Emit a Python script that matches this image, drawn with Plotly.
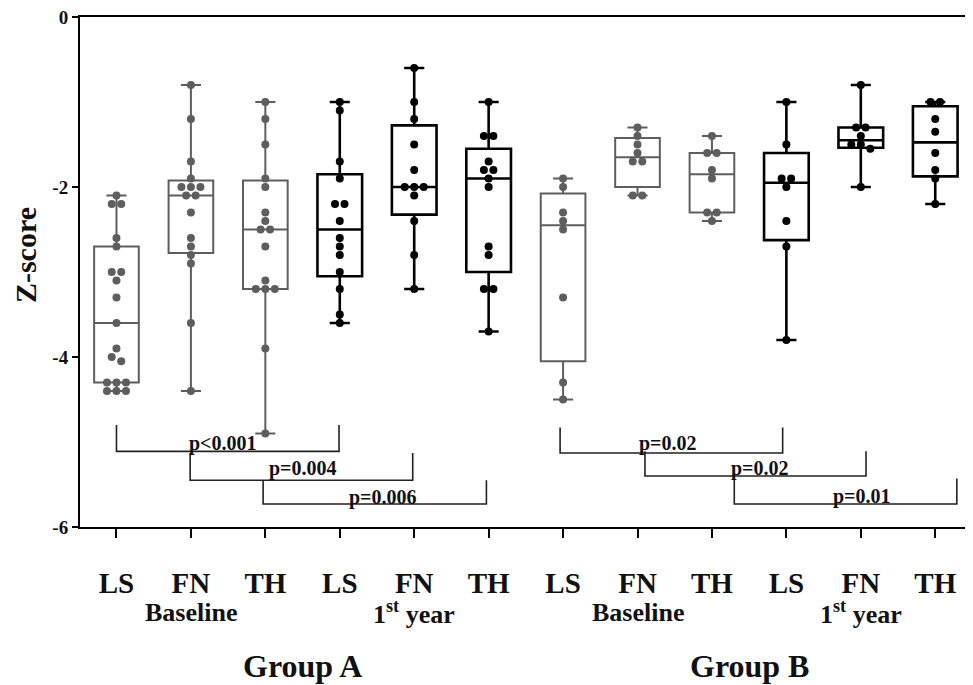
import numpy as np
import plotly.graph_objects as go

# ---------------- data ----------------
tick_labels = ["LS", "FN", "TH", "LS", "FN", "TH", "LS", "FN", "TH", "LS", "FN", "TH"]
period_labels = ["Baseline", "1<sup>st</sup> year", "Baseline", "1<sup>st</sup> year"]
period_centers = [1, 4, 7, 10]
group_labels = ["Group A", "Group B"]
group_centers = [2.5, 8.5]

ls_a_base = [-2.1, -2.2, -2.2, -2.6, -2.7, -3.0, -3.0, -3.1, -3.3, -3.6, -3.9, -4.0, -4.05,
             -4.3, -4.3, -4.3, -4.4, -4.4, -4.4]
fn_a_base = [-0.8, -1.2, -1.7, -1.9, -2.0, -2.0, -2.0, -2.1, -2.1, -2.3, -2.6, -2.7, -2.8,
             -2.9, -3.6, -4.4]
th_a_base = [-1.0, -1.2, -1.5, -1.9, -2.0, -2.3, -2.4, -2.5, -2.5, -2.7, -3.1, -3.2, -3.2,
             -3.2, -3.9, -4.9]
ls_a_1y = [-1.0, -1.1, -1.7, -1.9, -2.2, -2.2, -2.4, -2.6, -2.7, -2.8, -3.0, -3.2, -3.5, -3.6]
fn_a_1y = [-0.6, -1.0, -1.2, -1.5, -1.8, -2.0, -2.0, -2.0, -2.1, -2.4, -2.8, -3.2]
th_a_1y = [-1.0, -1.4, -1.4, -1.7, -1.8, -1.8, -1.9, -2.0, -2.7, -2.8, -3.2, -3.2, -3.7]
ls_b_base = [-1.9, -2.0, -2.3, -2.4, -2.5, -3.3, -4.3, -4.5]
fn_b_base = [-1.3, -1.4, -1.5, -1.6, -1.7, -1.7, -2.1, -2.1]
th_b_base = [-1.4, -1.6, -1.6, -1.8, -1.9, -2.3, -2.3, -2.4]
ls_b_1y = [-1.0, -1.5, -1.9, -1.9, -2.0, -2.4, -2.7, -3.8]
fn_b_1y = [-0.8, -1.3, -1.3, -1.4, -1.5, -1.5, -1.55, -2.0]
th_b_1y = [-1.0, -1.0, -1.2, -1.35, -1.6, -1.8, -1.9, -2.2]

series = [ls_a_base, fn_a_base, th_a_base, ls_a_1y, fn_a_1y, th_a_1y,
          ls_b_base, fn_b_base, th_b_base, ls_b_1y, fn_b_1y, th_b_1y]
is_followup = [False, False, False, True, True, True,
               False, False, False, True, True, True]

pvalue_labels = ["p<0.001", "p=0.004", "p=0.006", "p=0.02", "p=0.02", "p=0.01"]
bracket_left = [0.0, 0.99, 1.97, 5.96, 7.10, 8.30]
bracket_right = [2.99, 3.98, 4.97, 8.95, 10.07, 11.29]
bracket_base = [-5.11, -5.45, -5.73, -5.13, -5.40, -5.73]
bracket_top = [-4.80, -5.13, -5.45, -4.83, -5.11, -5.43]
pvalue_x = [1.43, 2.5, 3.58, 7.41, 8.65, 10.02]
pvalue_y = [-5.02, -5.31, -5.65, -5.02, -5.31, -5.64]

y_ticks = [0, -2, -4, -6]
y_title = "Z-score"

# ---------------- styling ----------------
# the page body has an 8px margin, so the figure is drawn 8px smaller and shifted
W, H = 965, 677
ML, MR, MT, MB = 72, 5, 9, 158
X_RANGE = [-0.49, 11.44]
Y_RANGE = [-6, 0]
px_per_x = (W - ML - MR) / (X_RANGE[1] - X_RANGE[0])
px_per_y = (H - MT - MB) / (Y_RANGE[1] - Y_RANGE[0])

GRAY = "#5e5e5e"
BLACK = "#000000"
TXT = "#111111"
SERIF = "Liberation Serif"
DOT = 8


def swarm_offsets(vals, dot_px=DOT, gap_px=9.5):
    """Beeswarm-like horizontal offsets (x data units): points closer than a dot
    diameter vertically are spread symmetrically in a row."""
    vals = np.asarray(vals, dtype=float)
    order = np.argsort(-vals, kind="stable")
    thr = dot_px / px_per_y * 1.05
    offsets = np.zeros(len(vals))
    groups, cur = [], [order[0]]
    for idx in order[1:]:
        if abs(vals[cur[0]] - vals[idx]) < thr:
            cur.append(idx)
        else:
            groups.append(cur)
            cur = [idx]
    groups.append(cur)
    step = gap_px / px_per_x
    for g in groups:
        m = len(g)
        for k, idx in enumerate(g):
            offsets[idx] = (k - (m - 1) / 2) * step
    return offsets


fig = go.Figure()

for i, vals in enumerate(series):
    v = np.asarray(vals, dtype=float)
    col = BLACK if is_followup[i] else GRAY
    lw = 2.6 if is_followup[i] else 2.0
    q1, med, q3 = np.percentile(v, [25, 50, 75], method="weibull")
    fig.add_trace(go.Box(
        x=[i], q1=[q1], median=[med], q3=[q3],
        lowerfence=[v.min()], upperfence=[v.max()],
        width=0.6, whiskerwidth=0.45, boxpoints=False,
        fillcolor="rgba(255,255,255,0)",
        line=dict(color=col, width=lw),
        showlegend=False, hoverinfo="skip",
    ))

for i, vals in enumerate(series):
    v = np.asarray(vals, dtype=float)
    col = BLACK if is_followup[i] else GRAY
    fig.add_trace(go.Scatter(
        x=i + swarm_offsets(v), y=v, mode="markers",
        marker=dict(size=DOT, color=col, line=dict(width=0)),
        showlegend=False, hoverinfo="skip",
    ))

# significance brackets
for xl, xr, yb, yt in zip(bracket_left, bracket_right, bracket_base, bracket_top):
    fig.add_trace(go.Scatter(
        x=[xl, xl, xr, xr], y=[yt, yb, yb, yt], mode="lines",
        line=dict(color="#222222", width=1.6),
        showlegend=False, hoverinfo="skip", cliponaxis=False,
    ))

for txt, xt, yt in zip(pvalue_labels, pvalue_x, pvalue_y):
    fig.add_annotation(x=xt, y=yt, xref="x", yref="y", text=txt, showarrow=False,
                       font=dict(family=SERIF, size=20, color=TXT, weight="bold"))

# period and group labels under the axis
for txt, xc in zip(period_labels, period_centers):
    fig.add_annotation(x=xc, y=-0.167, xref="x", yref="paper", text=txt, showarrow=False,
                       yanchor="middle",
                       font=dict(family=SERIF, size=26, color=TXT, weight="bold"))
for txt, xc in zip(group_labels, group_centers):
    fig.add_annotation(x=xc, y=-0.273, xref="x", yref="paper", text=txt, showarrow=False,
                       yanchor="middle",
                       font=dict(family=SERIF, size=32, color=TXT, weight="bold"))

# y-axis title
fig.add_annotation(x=-0.062, y=0.533, xref="paper", yref="paper", text=y_title,
                   showarrow=False, textangle=-90, xanchor="center", yanchor="middle",
                   font=dict(family=SERIF, size=30, color=TXT, weight="bold"))

fig.update_layout(
    width=W, height=H,
    margin=dict(l=ML, r=MR, t=MT, b=MB, autoexpand=False),
    paper_bgcolor="white", plot_bgcolor="white",
    showlegend=False,
)
fig.update_xaxes(
    range=X_RANGE, tickmode="array", tickvals=list(range(len(tick_labels))),
    ticktext=tick_labels, ticks="outside", ticklen=9, tickwidth=2, tickcolor="black",
    ticklabelstandoff=20, automargin=False, ticklabeloverflow="allow",
    tickfont=dict(family=SERIF, size=29, color=TXT, weight="bold"),
    showline=True, linewidth=2, linecolor="black", mirror=True,
    showgrid=False, zeroline=False,
)
fig.update_yaxes(
    range=Y_RANGE, tickmode="array", tickvals=y_ticks, ticktext=[str(t) for t in y_ticks],
    ticks="outside", ticklen=6, tickwidth=2, tickcolor="black", automargin=False,
    ticklabeloverflow="allow",
    tickfont=dict(family=SERIF, size=19, color=TXT, weight="bold"),
    showline=True, linewidth=2, linecolor="black", mirror=True,
    showgrid=False, zeroline=False,
)

fig.write_html("out.html")
